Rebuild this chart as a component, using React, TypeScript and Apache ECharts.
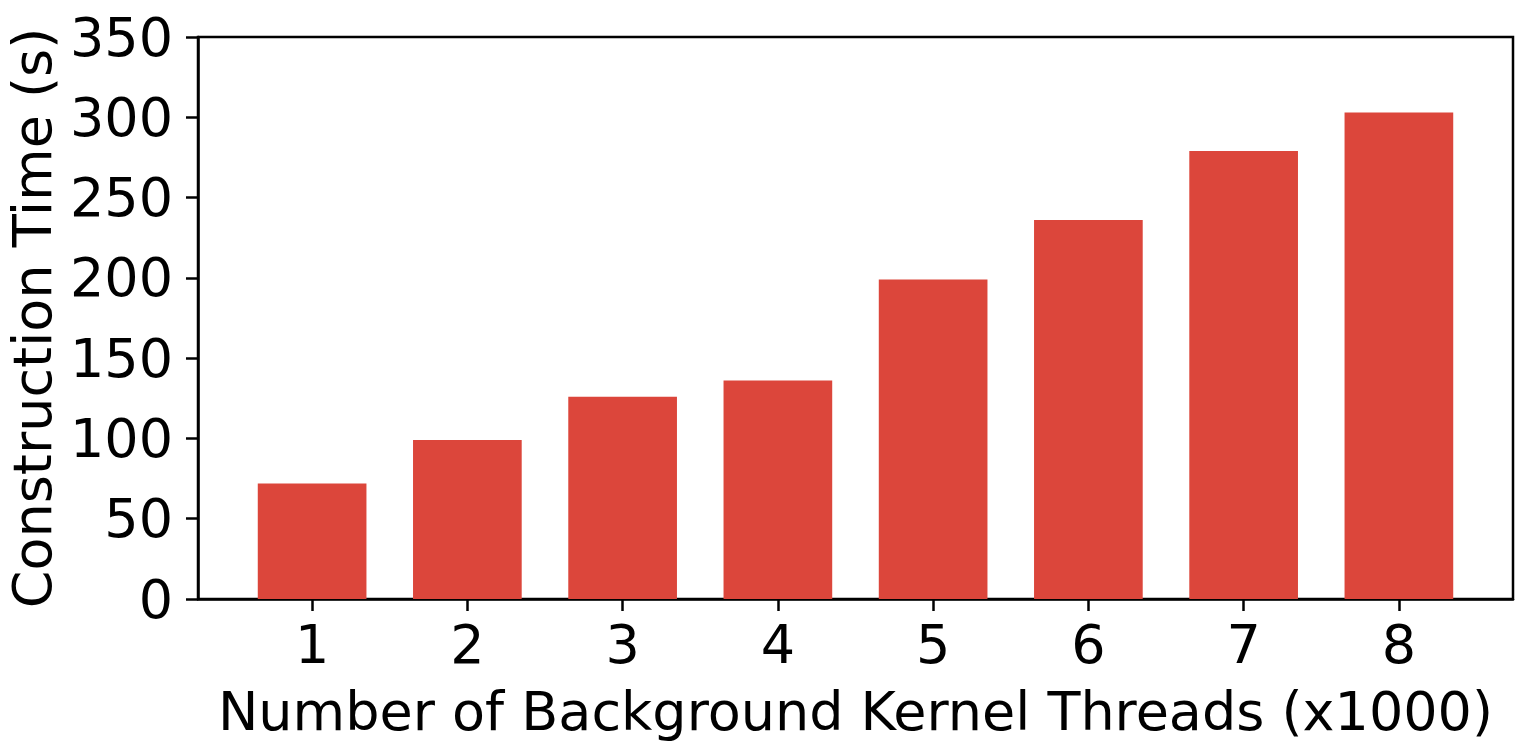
import React, { useEffect, useRef } from "react";
import * as echarts from "echarts";

const threads: number[] = [1, 2, 3, 4, 5, 6, 7, 8];
const constructionTime: number[] = [72, 99, 126, 136, 199, 236, 279, 303];
const yTicks: number[] = [0, 50, 100, 150, 200, 250, 300, 350];

const FONT = "'DejaVu Sans', sans-serif";

export default function App() {
  const ref = useRef<HTMLDivElement>(null);
  useEffect(() => {
    if (!ref.current) return;
    const chart = echarts.init(ref.current, null, { renderer: "svg" });
    chart.setOption({
      animation: false,
      backgroundColor: "#ffffff",
      grid: {
        left: 198,
        right: 16,
        top: 37,
        bottom: 150,
        show: true,
        borderColor: "#000000",
        borderWidth: 2.5,
        containLabel: false,
        outerBoundsMode: "none",
      },
      xAxis: {
        type: "value",
        min: 0.265,
        max: 8.735,
        name: "Number of Background Kernel Threads (x1000)",
        nameLocation: "middle",
        nameGap: 85,
        nameTextStyle: { fontFamily: FONT, fontSize: 54, color: "#000" },
        axisLine: { show: true, lineStyle: { color: "#000", width: 2.5 } },
        axisTick: {
          show: true,
          length: 12,
          lineStyle: { color: "#000", width: 2.5 },
          customValues: threads,
        },
        axisLabel: {
          fontFamily: FONT,
          fontSize: 54,
          color: "#000",
          margin: 18,
          customValues: threads,
          formatter: (v: number) => String(v),
        },
        splitLine: { show: false },
      },
      yAxis: {
        type: "value",
        min: 0,
        max: 350,
        interval: 50,
        name: "Construction Time (s)",
        nameLocation: "middle",
        nameGap: 138,
        nameTextStyle: { fontFamily: FONT, fontSize: 54, color: "#000" },
        axisLine: { show: true, lineStyle: { color: "#000", width: 2.5 } },
        axisTick: {
          show: true,
          length: 12,
          lineStyle: { color: "#000", width: 2.5 },
          customValues: yTicks,
        },
        axisLabel: {
          fontFamily: FONT,
          fontSize: 54,
          color: "#000",
          margin: 25,
        },
        splitLine: { show: false },
      },
      series: [
        {
          type: "bar",
          data: threads.map((t, i) => [t, constructionTime[i]]),
          barWidth: "70%",
          itemStyle: { color: "#dc463b" },
        },
      ],
    });
    return () => chart.dispose();
  }, []);
  return (
    <div
      ref={ref}
      style={{ position: "fixed", left: 0, top: 0, width: 1529, height: 749 }}
    />
  );
}
